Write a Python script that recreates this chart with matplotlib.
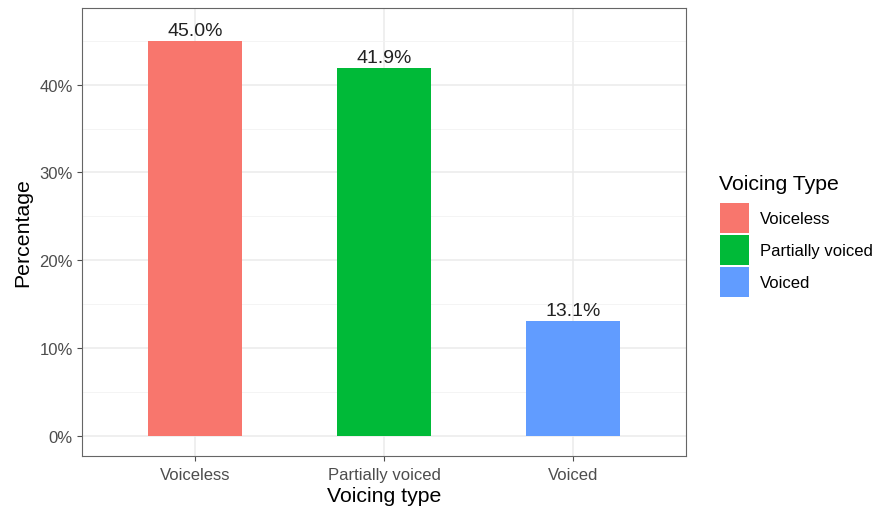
import matplotlib
matplotlib.use('Agg')
from matplotlib import pyplot as plt
from matplotlib.patches import Patch

plt.rcParams['font.family'] = ['Liberation Sans', 'DejaVu Sans']

# data
categories = ['Voiceless', 'Partially voiced', 'Voiced']
percentages = [45.0, 41.9, 13.1]
bar_colors = ['#F8766D', '#00BA38', '#619CFF']

fig = plt.figure(figsize=(8.77, 5.10), dpi=100)
ax = fig.add_axes([82/877, (510-456.7)/510, (686-82)/877, (456.7-9.3)/510])

xpos = list(range(1, len(categories) + 1))
ax.bar(xpos, percentages, width=0.5, color=bar_colors, zorder=3)
for x, p in zip(xpos, percentages):
    ax.text(x, p + 0.25, f'{p:.1f}%', ha='center', va='bottom',
            fontsize=14, color='#222222', zorder=4)

ax.set_xlim(0.4, 3.6)
ax.set_ylim(-2.28, 48.7)
ax.set_xticks(xpos)
ax.set_xticklabels(categories)
ax.set_yticks([0, 10, 20, 30, 40])
ax.set_yticklabels(['0%', '10%', '20%', '30%', '40%'])
ax.set_yticks([5, 15, 25, 35, 45], minor=True)

ax.grid(True, which='major', color='#EBEBEB', lw=1.1, zorder=0)
ax.grid(True, which='minor', axis='y', color='#F2F2F2', lw=0.6, zorder=0)
ax.set_axisbelow(True)
for s in ax.spines.values():
    s.set_color('#666666')
    s.set_linewidth(0.8)

ax.tick_params(axis='both', which='major', colors='#4D4D4D', labelsize=12,
               length=3.5, width=0.8, pad=3)
ax.tick_params(axis='x', which='major', pad=4.5)
ax.tick_params(axis='y', which='minor', length=0)

ax.set_xlabel('Voicing type', fontsize=15.3, color='black', labelpad=3)
ax.set_ylabel('Percentage', fontsize=15.3, color='black', labelpad=5)

# legend: title as separate text so the gap to the keys can be set
fig.text(719/877, 1 - 190/510, 'Voicing Type', fontsize=15.3,
         ha='left', va='baseline', color='black')
handles = [Patch(facecolor=c, edgecolor='none') for c in bar_colors]
leg = fig.legend(handles, categories,
                 loc='upper left', bbox_to_anchor=(712/877, 1 - 196/510),
                 frameon=False, fontsize=12,
                 handlelength=1.7, handleheight=2.4, handletextpad=0.65,
                 labelspacing=0.1, borderpad=0)

plt.savefig('out.png', dpi=100)
